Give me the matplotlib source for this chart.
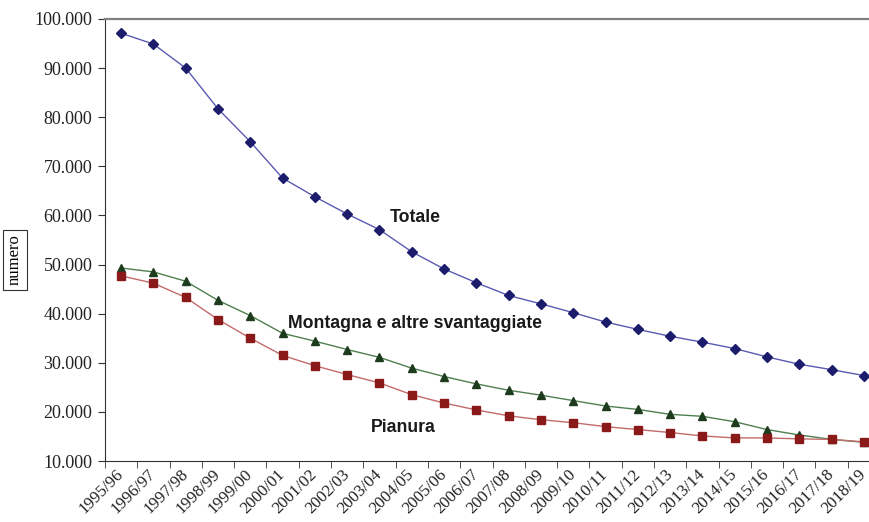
import numpy as np
import matplotlib.pyplot as plt
from matplotlib.ticker import FuncFormatter, FixedLocator

anni = ["1995/96", "1996/97", "1997/98", "1998/99", "1999/00", "2000/01",
        "2001/02", "2002/03", "2003/04", "2004/05", "2005/06", "2006/07",
        "2007/08", "2008/09", "2009/10", "2010/11", "2011/12", "2012/13",
        "2013/14", "2014/15", "2015/16", "2016/17", "2017/18", "2018/19"]

totale = [97100, 94900, 90000, 81700, 75000, 67600, 63800, 60300, 57100, 52600,
          49100, 46300, 43700, 42000, 40200, 38300, 36800, 35400, 34200, 32900,
          31200, 29700, 28600, 27400]
montagna = [49300, 48500, 46600, 42700, 39600, 36000, 34400, 32700, 31100, 28900,
            27200, 25700, 24400, 23400, 22300, 21200, 20500, 19500, 19100, 18000,
            16400, 15300, 14400, 13800]
pianura = [47700, 46200, 43300, 38800, 35000, 31500, 29400, 27600, 25900, 23500,
           21800, 20400, 19200, 18400, 17800, 17000, 16400, 15800, 15100, 14700,
           14700, 14500, 14400, 13900]

fig = plt.figure(figsize=(8.69, 5.22), dpi=100)
ax = fig.add_axes([105 / 869, 1 - 461 / 522, 775 / 869, 442 / 522])

x = np.arange(len(anni))
ax.plot(x, totale, color="#5a5ab4", lw=1.0, marker="D", ms=5,
        mfc="#1c1c6c", mec="#1c1c6c")
ax.plot(x, montagna, color="#4f7f4f", lw=1.0, marker="^", ms=6,
        mfc="#1d3b1d", mec="#1d3b1d")
ax.plot(x, pianura, color="#c46a6a", lw=1.0, marker="s", ms=6,
        mfc="#8a1a1a", mec="#8a1a1a")

ax.set_xlim(-0.5, len(anni) - 0.5)
ax.set_ylim(10000, 100000)
ax.set_yticks(np.arange(10000, 100001, 10000))
ax.yaxis.set_major_formatter(FuncFormatter(lambda v, p: f"{int(v):,}".replace(",", ".")))

ax.set_xticks(x)
ax.set_xticklabels(anni, rotation=45, ha="right", va="center", rotation_mode="anchor")
ax.xaxis.set_minor_locator(FixedLocator(np.arange(-0.5, len(anni), 1.0)))
ax.tick_params(axis="x", which="major", length=0, pad=8)
ax.tick_params(axis="x", which="minor", length=5, color="#333333")
ax.tick_params(axis="y", length=5, color="#333333", pad=4)

for lab in ax.get_yticklabels():
    lab.set_fontfamily("Liberation Serif")
    lab.set_fontsize(13)
    lab.set_color("#222222")
for lab in ax.get_xticklabels():
    lab.set_fontfamily("Liberation Serif")
    lab.set_fontsize(12.2)
    lab.set_color("#222222")

ax.spines["right"].set_visible(False)
ax.spines["top"].set_color("#808080")
ax.spines["top"].set_linewidth(1.6)
ax.spines["left"].set_color("#333333")
ax.spines["bottom"].set_color("#333333")

fig.text(15 / 869, 1 - 260 / 522, "numero", rotation=90, ha="center", va="center",
         fontsize=12, family="Liberation Serif",
         bbox=dict(boxstyle="square,pad=0.25", fc="white", ec="#333333", lw=0.8))

testo = dict(fontsize=12.7, fontweight="bold", family="Liberation Sans",
             color="#1a1a1a", ha="center", va="center")
ax.text(9.1, 59500, "Totale", **testo)
ax.text(9.1, 38000, "Montagna e altre svantaggiate", **testo)
ax.text(8.75, 16800, "Pianura", **testo)

fig.savefig("out.png", dpi=100)
